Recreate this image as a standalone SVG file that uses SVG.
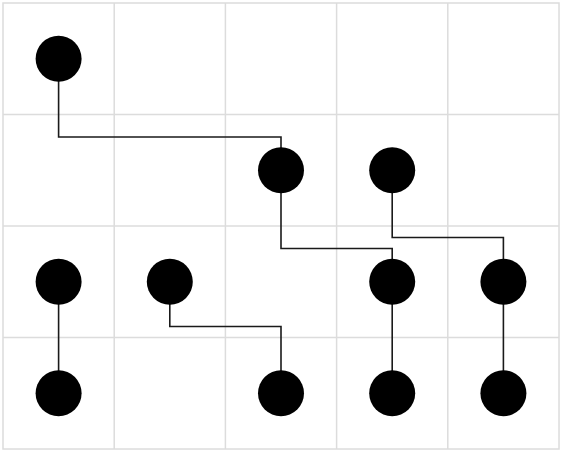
<svg xmlns="http://www.w3.org/2000/svg" width="563" height="452" viewBox="0 0 563 452">
<style>
.grid{stroke:#dcdcdc;stroke-width:1.5;fill:none}
.edge{stroke:#1a1a1a;stroke-width:1.6;fill:none}
.node{fill:#000}
</style>
<rect width="563" height="452" fill="#fff"/>
<g id="grid" class="grid">
<rect x="3" y="3" width="556" height="446"/>
<line x1="114.2" y1="3" x2="114.2" y2="449"/>
<line x1="225.4" y1="3" x2="225.4" y2="449"/>
<line x1="336.6" y1="3" x2="336.6" y2="449"/>
<line x1="447.8" y1="3" x2="447.8" y2="449"/>
<line x1="3" y1="114.5" x2="559" y2="114.5"/>
<line x1="3" y1="226" x2="559" y2="226"/>
<line x1="3" y1="337.5" x2="559" y2="337.5"/>
</g>
<g id="connectors" class="edge">
<polyline points="58.6,58.7 58.6,137 281,137 281,170.2"/>
<polyline points="281,170.2 281,248.5 392.2,248.5 392.2,281.7"/>
<polyline points="392.2,170.2 392.2,237.5 503.4,237.5 503.4,281.7"/>
<polyline points="169.8,281.7 169.8,326.5 281,326.5 281,393.2"/>
<line x1="58.6" y1="281.7" x2="58.6" y2="393.2"/>
<line x1="392.2" y1="281.7" x2="392.2" y2="393.2"/>
<line x1="503.4" y1="281.7" x2="503.4" y2="393.2"/>
</g>
<g id="n1"><circle class="node" cx="58.6" cy="58.7" r="23"/></g>
<g id="n2"><circle class="node" cx="281" cy="170.2" r="23"/></g>
<g id="n3"><circle class="node" cx="392.2" cy="170.2" r="23"/></g>
<g id="n4"><circle class="node" cx="58.6" cy="281.7" r="23"/></g>
<g id="n5"><circle class="node" cx="169.8" cy="281.7" r="23"/></g>
<g id="n6"><circle class="node" cx="392.2" cy="281.7" r="23"/></g>
<g id="n7"><circle class="node" cx="503.4" cy="281.7" r="23"/></g>
<g id="n8"><circle class="node" cx="58.6" cy="393.2" r="23"/></g>
<g id="n9"><circle class="node" cx="281" cy="393.2" r="23"/></g>
<g id="n10"><circle class="node" cx="392.2" cy="393.2" r="23"/></g>
<g id="n11"><circle class="node" cx="503.4" cy="393.2" r="23"/></g>
</svg>
